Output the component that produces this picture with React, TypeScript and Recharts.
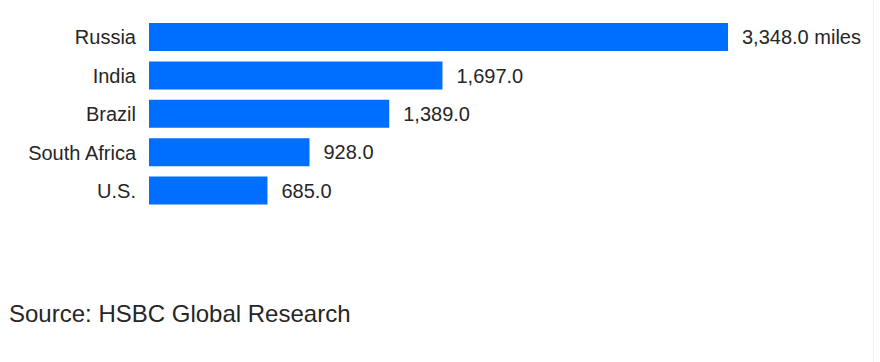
import React from 'react';
import { Bar, BarChart, LabelList, XAxis, YAxis } from 'recharts';

const countries = ['Russia', 'India', 'Brazil', 'South Africa', 'U.S.'];
const miles = [3348, 1697, 1389, 928, 685];
const units = [' miles', '', '', '', ''];

const data = countries.map((country, i) => ({
  country,
  miles: miles[i],
  display:
    miles[i].toLocaleString('en-US', { minimumFractionDigits: 1, maximumFractionDigits: 1 }) + units[i]
}));

const FONT = '"Liberation Sans", Arial, Helvetica, sans-serif';
const TEXT = '#262626';

const App: React.FC = () => {
  return (
    <div
      style={{
        position: 'absolute',
        left: 0,
        top: 0,
        width: 880,
        height: 362,
        background: '#fff',
        fontFamily: FONT
      }}
    >
      <BarChart
        width={880}
        height={230}
        data={data}
        layout="vertical"
        margin={{ top: 18, right: 152, bottom: 20, left: 0 }}
      >
        <XAxis type="number" hide domain={[0, 3348]} />
        <YAxis
          type="category"
          dataKey="country"
          width={149}
          axisLine={false}
          tickLine={false}
          tickSize={0}
          tickMargin={13}
          tick={{ fill: TEXT, fontSize: 20, fontFamily: FONT }}
        />
        <Bar dataKey="miles" fill="#006FFF" barSize={28} isAnimationActive={false}>
          <LabelList
            dataKey="display"
            position="right"
            offset={14}
            fill={TEXT}
            fontSize={20}
            fontFamily={FONT}
          />
        </Bar>
      </BarChart>
      <div
        style={{
          position: 'absolute',
          left: 9,
          top: 302,
          fontSize: 24,
          lineHeight: '24px',
          color: TEXT,
          whiteSpace: 'nowrap'
        }}
      >
        Source: HSBC Global Research
      </div>
      <div
        style={{
          position: 'absolute',
          left: 873,
          top: 0,
          width: 1,
          height: 362,
          background: '#f0f0f0'
        }}
      />
    </div>
  );
};

export default App;
